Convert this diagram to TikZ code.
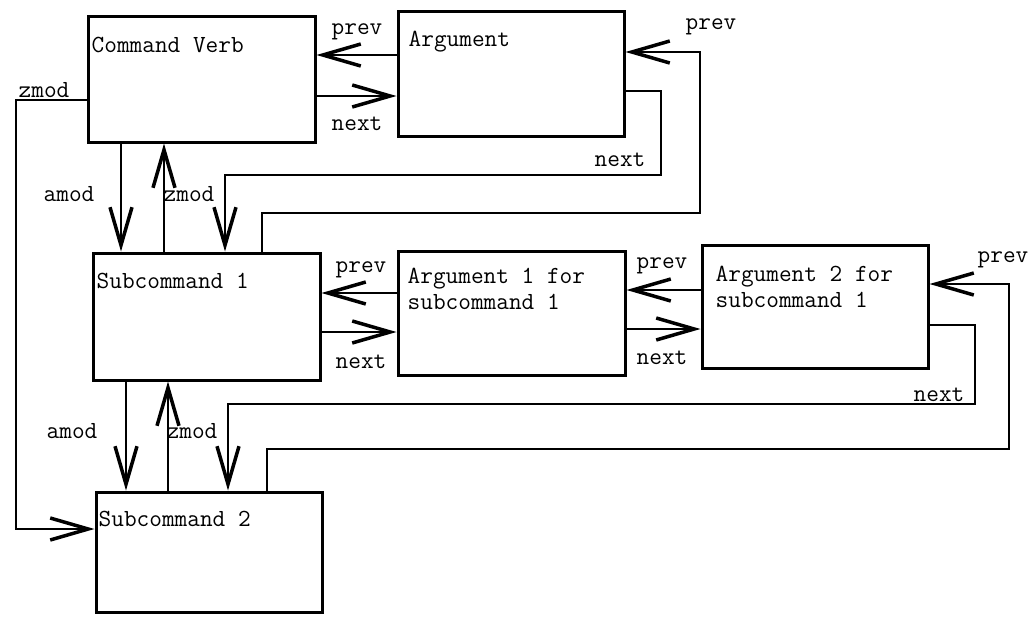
\documentclass[tikz,border=0pt]{standalone}
\usepackage{fontspec}
\usepackage{tikz}
\usetikzlibrary{arrows.meta}
\newcommand{\typed}{\ttfamily\fontsize{24.6pt}{26pt}\selectfont}

\begin{document}
\begin{tikzpicture}[x=1pt, y=-1pt,
  cell/.style={draw, rectangle, line width=3pt, inner sep=0pt},
  title/.style={font=\typed, anchor=north west, inner sep=0pt, align=left},
  tag/.style={font=\typed, inner sep=0pt},
  link/.style={line width=2pt,
               -{Straight Barb[length=38pt, width=22pt, line width=3.5pt]}},
]
\useasboundingbox (0,0) rectangle (1033,616);

%% Command level
\node[cell, minimum width=227pt, minimum height=126pt,
      label={[title, xshift=5pt, yshift=-22pt]north west:Command Verb}]
  (cv) at (201.5,79) {};
\node[cell, minimum width=226pt, minimum height=125pt,
      label={[title, xshift=12pt, yshift=-21pt]north west:Argument}]
  (arg) at (511,73.5) {};

%% Subcommand 1 and its arguments
\node[cell, minimum width=227pt, minimum height=127pt,
      label={[title, xshift=5pt, yshift=-21pt]north west:Subcommand 1}]
  (sub1) at (206.5,316.5) {};
\node[cell, minimum width=227pt, minimum height=124pt,
      label={[title, xshift=11pt, yshift=-18pt]north west:{Argument 1 for\\subcommand 1}}]
  (arg1) at (511.5,313) {};
\node[cell, minimum width=226pt, minimum height=123pt,
      label={[title, xshift=15pt, yshift=-22pt]north west:{Argument 2 for\\subcommand 1}}]
  (arg2) at (815,306.5) {};

%% Subcommand 2
\node[cell, minimum width=226pt, minimum height=120pt,
      label={[title, xshift=4pt, yshift=-20pt]north west:Subcommand 2}]
  (sub2) at (209,552) {};

%% prev / next between neighbours
\draw[link] (arg.west |- 0,55) -- (cv.east |- 0,55);
\draw[link] (cv.east |- 0,96) -- (arg.west |- 0,96);
\draw[link] (arg1.west |- 0,293) -- (sub1.east |- 0,293);
\draw[link] (sub1.east |- 0,332) -- (arg1.west |- 0,332);
\draw[link] (arg2.west |- 0,290) -- (arg1.east |- 0,290);
\draw[link] (arg1.east |- 0,329) -- (arg2.west |- 0,329);

%% amod / zmod
\draw[link] (cv.south -| 121,0) -- (sub1.north -| 121,0);
\draw[link] (sub1.north -| 164,0) -- (cv.south -| 164,0);
\draw[link] (sub1.south -| 126,0) -- (sub2.north -| 126,0);
\draw[link] (sub2.north -| 168,0) -- (sub1.south -| 168,0);
\draw[link] (cv.west |- 0,100) -| (16,529) -- (sub2.west |- 0,529);

%% wrap-around links from the last argument
\draw[link] (arg.east |- 0,91) -| (661,175) -| (sub1.north -| 225,0);
\draw[link] (sub1.north -| 262,0) |- (700,213) |- (arg.east |- 0,52);
\draw[link] (arg2.east |- 0,325) -| (975,404) -| (sub2.north -| 228,0);
\draw[link] (sub2.north -| 267,0) |- (1009,449) |- (arg2.east |- 0,284);

%% Link labels
\node[tag] (tprev0) at (357,32) {prev};
\node[tag] (tnext0) at (357,124) {next};
\node[tag] (tzmod0) at (44,90) {zmod};
\node[tag] (tamod1) at (69,194) {amod};
\node[tag] (tzmod1) at (189,194) {zmod};
\node[tag] (tprev1) at (711,27) {prev};
\node[tag] (tnext1) at (620,160) {next};
\node[tag] (tprev2) at (361,270) {prev};
\node[tag] (tnext2) at (361,362) {next};
\node[tag] (tprev3) at (662,266) {prev};
\node[tag] (tnext3) at (662,358) {next};
\node[tag] (tprev4) at (1003,260) {prev};
\node[tag] (tnext4) at (939,395) {next};
\node[tag] (tamod2) at (72,431) {amod};
\node[tag] (tzmod2) at (192,431) {zmod};
\end{tikzpicture}
\end{document}
